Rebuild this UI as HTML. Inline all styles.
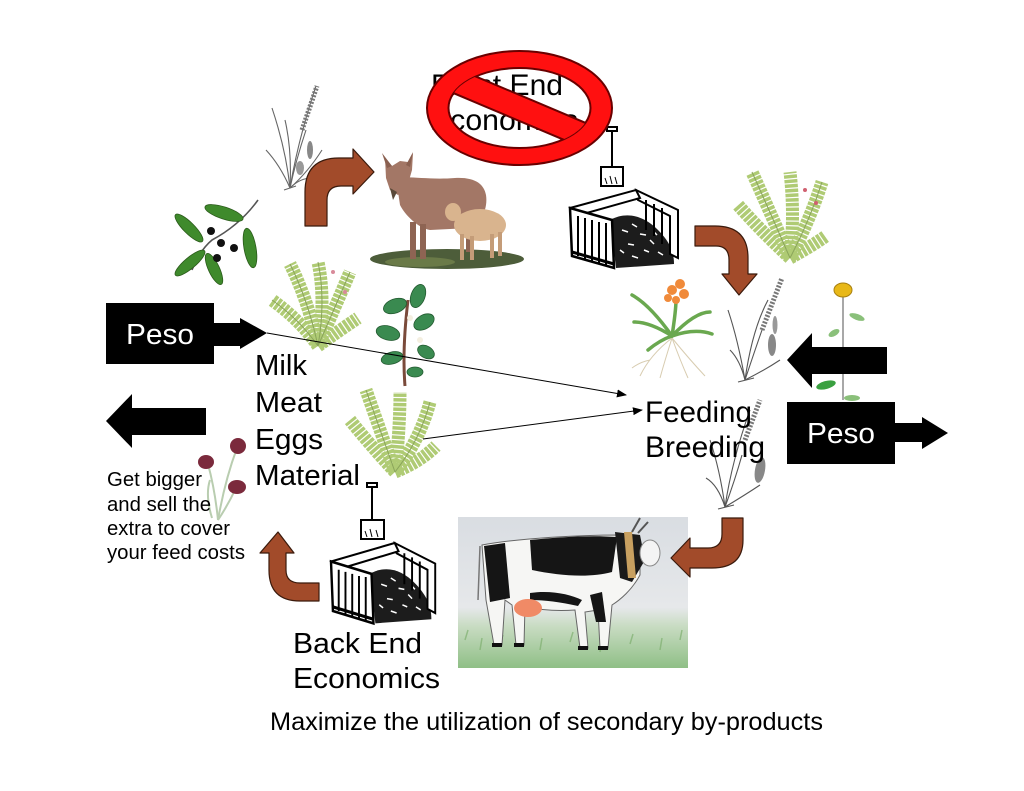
<!DOCTYPE html>
<html><head><meta charset="utf-8"><style>
html,body{margin:0;padding:0;background:#fff;}
svg{display:block;}
text{font-family:"Liberation Sans",Arial,sans-serif;}
</style></head><body>
<svg width="1024" height="791" viewBox="0 0 1024 791" xmlns="http://www.w3.org/2000/svg">
<defs>
<marker id="ah" markerWidth="10" markerHeight="8" refX="9" refY="4" orient="auto" markerUnits="userSpaceOnUse">
<path d="M0,0 L10,4 L0,8 Z" fill="#000"/>
</marker>
<clipPath id="innerEll"><ellipse cx="519.5" cy="108" rx="71" ry="40"/></clipPath>
<linearGradient id="cowbg" x1="0" y1="0" x2="0" y2="1">
<stop offset="0" stop-color="#d9dde2"/><stop offset="0.6" stop-color="#e6e8ea"/><stop offset="0.72" stop-color="#c9dcc3"/><stop offset="1" stop-color="#8fbf86"/>
</linearGradient>
<g id="crate">
<path d="M40,30 C55,22 72,24 88,40 C100,52 104,62 104,74 L46,78 Z" fill="#1c1c1c"/>
<path d="M52,40 l6,2 M62,34 l5,3 M70,44 l6,1 M80,50 l4,4 M58,54 l6,1 M74,60 l5,2 M88,62 l5,3 M62,66 l6,2 M50,60 l4,3 M84,42 l3,3" stroke="#fff" stroke-width="1.5"/>
<path d="M66,0 L108,20 L108,68 L100,64 L100,26 L68,10 Z" fill="#fff" stroke="#000" stroke-width="2"/>
<path d="M76,10 V40 M84,14 V46 M92,18 V54" stroke="#000" stroke-width="2"/>
<path d="M0,18 L66,0 L70,8 L6,26 Z" fill="#fff" stroke="#000" stroke-width="2"/>
<path d="M0,18 L42,30 L44,78 L2,66 Z" fill="#fff" stroke="#000" stroke-width="2.5"/>
<path d="M8,26 V66 M15,28 V69 M22,30 V71 M29,32 V73 M36,33 V75" stroke="#000" stroke-width="2"/>
<path d="M2,62 L44,74" stroke="#000" stroke-width="3"/>
</g>
</defs>

<!-- grass top-left -->
<g fill="none" stroke="#666" stroke-width="1.1">
<path d="M290,188 Q286,150 272,108"/><path d="M290,188 Q298,140 316,86"/><path d="M290,188 Q280,165 266,150"/>
<path d="M290,188 Q296,160 306,130"/><path d="M290,188 Q308,172 322,150"/><path d="M290,188 Q292,150 285,120"/>
<path d="M290,188 Q300,178 312,178"/><path d="M284,190 L296,186"/>
</g>
<path d="M302,130 L317,86" stroke="#777" stroke-width="5" stroke-dasharray="2 1.5" fill="none"/>
<ellipse cx="310" cy="150" rx="3" ry="9" fill="#888"/>
<ellipse cx="300" cy="168" rx="4" ry="7" fill="#999"/>

<!-- olive branch -->
<path d="M258,200 Q240,225 212,240 Q200,250 192,270" stroke="#555" stroke-width="1.6" fill="none"/>
<g fill="#3f8a2c" stroke="#2a5a1a" stroke-width="0.8">
<ellipse cx="189" cy="228" rx="19" ry="5.5" transform="rotate(45 189 228)"/>
<ellipse cx="224" cy="213" rx="20" ry="6" transform="rotate(18 224 213)"/>
<ellipse cx="250" cy="248" rx="20" ry="6" transform="rotate(80 250 248)"/>
<ellipse cx="190" cy="263" rx="19" ry="5.5" transform="rotate(-40 190 263)"/>
<ellipse cx="214" cy="269" rx="17" ry="5.5" transform="rotate(65 214 269)"/>
</g>
<g fill="#111"><circle cx="211" cy="231" r="4"/><circle cx="221" cy="243" r="4"/><circle cx="234" cy="248" r="4"/><circle cx="217" cy="258" r="4"/></g>

<!-- fern left -->
<g fill="none" stroke="#afcb74" stroke-width="13" stroke-dasharray="3.5 1.2">
<path d="M318,346 Q300,320 272,300"/><path d="M318,346 Q308,300 290,264"/><path d="M318,346 Q326,300 318,262"/>
<path d="M318,346 Q336,305 350,272"/><path d="M318,346 Q340,330 358,318"/>
</g>
<g fill="none" stroke="#8aa55a" stroke-width="1"><path d="M318,346 Q300,320 272,300"/><path d="M318,346 Q308,300 290,264"/><path d="M318,346 Q326,300 318,262"/><path d="M318,346 Q336,305 350,272"/></g>
<g fill="#d88a9a"><circle cx="333" cy="272" r="2"/><circle cx="345" cy="292" r="2"/></g>

<!-- tea branch -->
<path d="M405,386 Q402,350 408,300" stroke="#7a4a3a" stroke-width="3" fill="none"/>
<g fill="#3a8a50" stroke="#235a30" stroke-width="0.8">
<ellipse cx="395" cy="306" rx="12" ry="7" transform="rotate(-20 395 306)"/>
<ellipse cx="418" cy="296" rx="7" ry="12" transform="rotate(20 418 296)"/>
<ellipse cx="388" cy="333" rx="12" ry="7" transform="rotate(15 388 333)"/>
<ellipse cx="424" cy="322" rx="11" ry="7" transform="rotate(-30 424 322)"/>
<ellipse cx="392" cy="358" rx="11" ry="6" transform="rotate(-15 392 358)"/>
<ellipse cx="426" cy="352" rx="9" ry="6" transform="rotate(30 426 352)"/>
<ellipse cx="415" cy="372" rx="8" ry="5"/>
</g>
<g fill="#f4efe0"><circle cx="410" cy="318" r="3"/><circle cx="420" cy="340" r="3"/></g>

<!-- fern middle -->
<g fill="none" stroke="#afcb74" stroke-width="13" stroke-dasharray="3.5 1.2">
<path d="M395,472 Q370,445 350,420"/><path d="M395,472 Q380,430 366,390"/><path d="M395,472 Q400,430 400,392"/>
<path d="M395,472 Q420,440 430,402"/><path d="M395,472 Q420,462 436,446"/>
</g>
<g fill="none" stroke="#8aa55a" stroke-width="1"><path d="M395,472 Q380,430 366,390"/><path d="M395,472 Q420,440 430,402"/></g>

<!-- tulips -->
<g stroke="#b9cdb0" stroke-width="2" fill="none">
<path d="M218,520 Q215,490 208,464"/><path d="M218,520 Q225,480 237,448"/><path d="M218,520 Q228,505 236,488"/>
<path d="M212,518 Q205,495 210,480"/>
</g>
<g fill="#7b2a3c"><ellipse cx="206" cy="462" rx="8" ry="7"/><ellipse cx="238" cy="446" rx="8" ry="8"/><ellipse cx="237" cy="487" rx="9" ry="7"/></g>

<!-- fern right top -->
<g fill="none" stroke="#afcb74" stroke-width="13" stroke-dasharray="3.5 1.2">
<path d="M790,258 Q760,230 738,205"/><path d="M790,258 Q770,212 752,172"/><path d="M790,258 Q795,215 790,172"/>
<path d="M790,258 Q810,220 822,182"/><path d="M790,258 Q812,246 826,236"/>
</g>
<g fill="none" stroke="#8aa55a" stroke-width="1"><path d="M790,258 Q770,212 752,172"/><path d="M790,258 Q810,220 822,182"/></g>
<g fill="#d06070"><circle cx="805" cy="190" r="2"/><circle cx="816" cy="203" r="2"/></g>

<!-- orchid -->
<g stroke="#d8ccb0" stroke-width="1" fill="none">
<path d="M672,338 Q650,355 640,376"/><path d="M672,338 Q690,360 705,376"/><path d="M672,338 Q665,360 660,378"/><path d="M672,338 Q680,360 688,378"/><path d="M650,360 Q640,362 632,368"/>
</g>
<g stroke="#6aa84f" stroke-width="3.5" fill="none" stroke-linecap="round">
<path d="M672,336 Q650,305 632,295"/><path d="M672,336 Q650,322 634,322"/><path d="M672,336 Q695,312 710,312"/>
<path d="M672,336 Q695,328 712,334"/><path d="M672,336 Q660,340 648,350"/><path d="M672,336 Q676,310 676,300"/>
</g>
<g fill="#f08a3a"><circle cx="672" cy="290" r="5"/><circle cx="680" cy="284" r="5"/><circle cx="684" cy="294" r="5"/><circle cx="676" cy="300" r="4"/><circle cx="668" cy="298" r="4"/></g>

<!-- grass right 1 -->
<g fill="none" stroke="#555" stroke-width="1.1">
<path d="M745,380 Q738,340 728,310"/><path d="M745,380 Q752,330 768,300"/><path d="M745,380 Q740,360 730,350"/>
<path d="M745,380 Q755,350 762,330"/><path d="M745,380 Q765,370 780,360"/><path d="M738,382 L754,378"/>
</g>
<path d="M762,330 L782,278" stroke="#777" stroke-width="5" stroke-dasharray="2 1.5" fill="none"/>
<ellipse cx="772" cy="345" rx="4" ry="11" fill="#888"/>
<ellipse cx="775" cy="325" rx="2.5" ry="9" fill="#999"/>

<!-- sunflower -->
<line x1="843" y1="294" x2="843" y2="400" stroke="#8a8a8a" stroke-width="1.5"/>
<g fill="#8ac07a"><ellipse cx="857" cy="317" rx="8" ry="3" transform="rotate(20 857 317)"/><ellipse cx="834" cy="333" rx="6" ry="3" transform="rotate(-30 834 333)"/><ellipse cx="852" cy="398" rx="8" ry="3"/></g>
<ellipse cx="826" cy="385" rx="10" ry="4" fill="#3aa040" transform="rotate(-15 826 385)"/>
<ellipse cx="843" cy="290" rx="9" ry="7" fill="#e8b818" stroke="#a88010" stroke-width="1"/>

<!-- grass right 2 -->
<g fill="none" stroke="#555" stroke-width="1.1">
<path d="M725,507 Q720,470 710,440"/><path d="M725,507 Q732,460 750,410"/><path d="M725,507 Q718,485 706,478"/>
<path d="M725,507 Q735,480 742,455"/><path d="M725,507 Q745,495 760,485"/><path d="M718,509 L734,505"/>
</g>
<path d="M745,440 L760,400" stroke="#777" stroke-width="5" stroke-dasharray="2 1.5" fill="none"/>
<ellipse cx="760" cy="470" rx="5" ry="13" fill="#888" transform="rotate(10 760 470)"/>

<!-- goat -->
<ellipse cx="447" cy="259" rx="77" ry="10" fill="#4d5d3a"/>
<ellipse cx="420" cy="262" rx="35" ry="5" fill="#6a7a48"/>
<g fill="#a37766">
<path d="M396,178 C410,176 430,180 455,178 C475,177 484,184 486,195 C488,208 482,222 470,228 L430,230 C418,228 405,215 400,205 Z"/>
<path d="M385,158 L392,166 L400,161 L408,162 L413,153 L412,170 L408,184 L398,195 L390,190 L386,178 Z"/>
</g>
<path d="M382,153 L392,166 L387,168 Z M413,152 L406,165 L410,167 Z" fill="#8a6050"/>
<path d="M390,188 L393,200 L397,192 Z" fill="#5a4a3a"/>
<g fill="#8e6453"><rect x="410" y="222" width="6" height="37"/><rect x="420" y="224" width="6" height="35"/><rect x="466" y="222" width="5" height="30"/></g>
<g fill="#d9b48e">
<ellipse cx="480" cy="225" rx="26" ry="16"/>
<ellipse cx="453" cy="212" rx="8" ry="9"/>
</g>
<g fill="#c49c78"><rect x="460" y="234" width="4" height="26"/><rect x="470" y="236" width="4" height="24"/><rect x="490" y="234" width="4" height="24"/><rect x="498" y="232" width="4" height="24"/></g>

<!-- crates & shovels -->
<use href="#crate" transform="translate(570,190)"/>
<use href="#crate" transform="translate(331,543) scale(0.965,1.03)"/>
<g stroke="#000" stroke-width="2" fill="#fff">
<line x1="612" y1="131" x2="612" y2="167"/><rect x="607" y="127" width="10" height="4"/>
<rect x="601" y="167" width="22" height="19"/>
<line x1="372" y1="487" x2="372" y2="520"/><rect x="367" y="483" width="10" height="4"/>
<rect x="361" y="520" width="23" height="19"/>
</g>
<path d="M605,178 l2,6 M610,176 l2,8 M615,177 l2,7 M365,531 l2,6 M370,529 l2,8 M376,530 l2,7" stroke="#000" stroke-width="1"/>

<!-- cow picture -->
<rect x="458" y="517" width="230" height="151" fill="url(#cowbg)"/>
<g stroke="#7fb070" stroke-width="1.5" opacity="0.7"><path d="M465,640 l3,-10 M480,650 l2,-12 M500,645 l3,-10 M540,650 l2,-12 M570,642 l3,-10 M600,652 l2,-12 M630,644 l3,-10 M660,650 l2,-12 M680,640 l2,-10"/></g>
<path d="M482,545 C520,538 580,535 620,535 L640,545 L640,575 C632,590 620,600 612,605 L608,648 L600,648 L598,610 L585,612 L588,648 L580,648 L575,610 C550,612 530,608 525,606 L524,645 L516,645 L512,605 L505,600 L502,645 L494,645 L486,600 Z" fill="#f6f6f4" stroke="#666" stroke-width="1"/>
<path d="M484,546 L505,543 L510,598 L490,602 Z" fill="#151515"/>
<path d="M530,540 C560,537 590,535 617,537 L612,572 C590,578 560,576 532,570 Z" fill="#151515"/>
<path d="M615,532 L640,535 L645,560 L632,582 L620,578 Z" fill="#1a1a1a"/>
<path d="M624,532 L632,532 L636,578 L628,578 Z" fill="#c8a060"/>
<ellipse cx="650" cy="553" rx="10" ry="13" fill="#f4f4f4" stroke="#888" stroke-width="1"/>
<path d="M632,532 L640,518 M638,533 L648,522" stroke="#555" stroke-width="2"/>
<path d="M530,593 C550,590 570,594 582,600 L578,606 C560,602 545,600 530,600 Z" fill="#151515"/>
<path d="M590,595 L602,592 L606,622 L596,622 Z" fill="#151515"/>
<ellipse cx="528" cy="608" rx="14" ry="9" fill="#f08a66"/>
<path d="M480,546 L478,600" stroke="#777" stroke-width="1.5"/>
<g fill="#111"><rect x="492" y="643" width="10" height="4"/><rect x="514" y="643" width="10" height="4"/><rect x="578" y="646" width="10" height="4"/><rect x="598" y="646" width="10" height="4"/></g>

<!-- brown arrows -->
<g fill="#a24b2a" stroke="#3a1a0c" stroke-width="1.2" stroke-linejoin="round">
<path d="M305,226 L305,192 Q305,158 339,158 L353,158 L353,149 L374,172 L353,194 L353,186 L341,186 Q327,186 327,200 L327,226 Z"/>
<path d="M695,226 L715,226 Q748,226 748,258 L748,274 L757,274 L739,295 L722,274 L729,274 L729,260 Q729,246 716,246 L695,246 Z"/>
<path d="M722,518 L743,518 L743,540 Q743,568 712,568 L690,568 L690,577 L671,558 L690,538 L690,548 L708,548 Q722,548 722,534 Z"/>
<path d="M269,553 L260,553 L278,532 L294,553 L286,553 L286,570 Q286,583 300,583 L319,583 L319,601 L300,601 Q269,601 269,570 Z"/>
</g>

<!-- black peso boxes & arrows -->
<g fill="#000">
<rect x="106" y="303" width="108" height="61"/>
<rect x="213" y="323" width="29" height="23"/>
<path d="M240,318 L267,333 L240,349 Z"/>
<path d="M106,421 L132,394 L132,408 L206,408 L206,435 L132,435 L132,448 Z"/>
<path d="M787,360 L812,333 L812,347 L887,347 L887,374 L812,374 L812,388 Z"/>
<rect x="787" y="402" width="108" height="62"/>
<rect x="894" y="423" width="30" height="19"/>
<path d="M922,417 L948,433 L922,449 Z"/>
</g>
<text x="126" y="344" font-size="29" fill="#fff" textLength="68" lengthAdjust="spacingAndGlyphs">Peso</text>
<text x="807" y="443" font-size="29" fill="#fff" textLength="68" lengthAdjust="spacingAndGlyphs">Peso</text>

<!-- connectors -->
<line x1="267" y1="333" x2="626" y2="395" stroke="#000" stroke-width="1" marker-end="url(#ah)"/>
<line x1="423" y1="439" x2="642" y2="410" stroke="#000" stroke-width="1" marker-end="url(#ah)"/>

<!-- texts -->
<g font-size="29" fill="#000">
<text x="255" y="375" textLength="52" lengthAdjust="spacingAndGlyphs">Milk</text>
<text x="255" y="412" textLength="67" lengthAdjust="spacingAndGlyphs">Meat</text>
<text x="255" y="449" textLength="68" lengthAdjust="spacingAndGlyphs">Eggs</text>
<text x="255" y="485" textLength="105" lengthAdjust="spacingAndGlyphs">Material</text>
<text x="645" y="422" font-size="30" textLength="107" lengthAdjust="spacingAndGlyphs">Feeding</text>
<text x="645" y="457" font-size="30" textLength="120" lengthAdjust="spacingAndGlyphs">Breeding</text>
<text x="293" y="653" textLength="129" lengthAdjust="spacingAndGlyphs">Back End</text>
<text x="293" y="688" textLength="147" lengthAdjust="spacingAndGlyphs">Economics</text>
<text x="431" y="95" font-size="30" textLength="132" lengthAdjust="spacingAndGlyphs">Front End</text>
<text x="430" y="130" font-size="30" textLength="148" lengthAdjust="spacingAndGlyphs">Economics</text>
</g>
<g font-size="20" fill="#000">
<text x="107" y="486" textLength="95" lengthAdjust="spacingAndGlyphs">Get bigger</text>
<text x="107" y="511" textLength="104" lengthAdjust="spacingAndGlyphs">and sell the</text>
<text x="107" y="535" textLength="123" lengthAdjust="spacingAndGlyphs">extra to cover</text>
<text x="107" y="559" textLength="138" lengthAdjust="spacingAndGlyphs">your feed costs</text>
</g>
<text x="270" y="730" font-size="25" fill="#000" textLength="553" lengthAdjust="spacingAndGlyphs">Maximize the utilization of secondary by-products</text>

<!-- no sign -->
<path d="M427,108 A92.5,57 0 1 0 612,108 A92.5,57 0 1 0 427,108 Z M448.5,108 A71,40 0 1 1 590.5,108 A71,40 0 1 1 448.5,108 Z" fill="#ff1010" fill-rule="evenodd" stroke="#6a0000" stroke-width="2"/>
<g clip-path="url(#innerEll)">
<line x1="425" y1="68" x2="614" y2="148" stroke="#6a0000" stroke-width="26"/>
<line x1="425" y1="68" x2="614" y2="148" stroke="#ff1010" stroke-width="22"/>
</g>
</svg>
</body></html>
